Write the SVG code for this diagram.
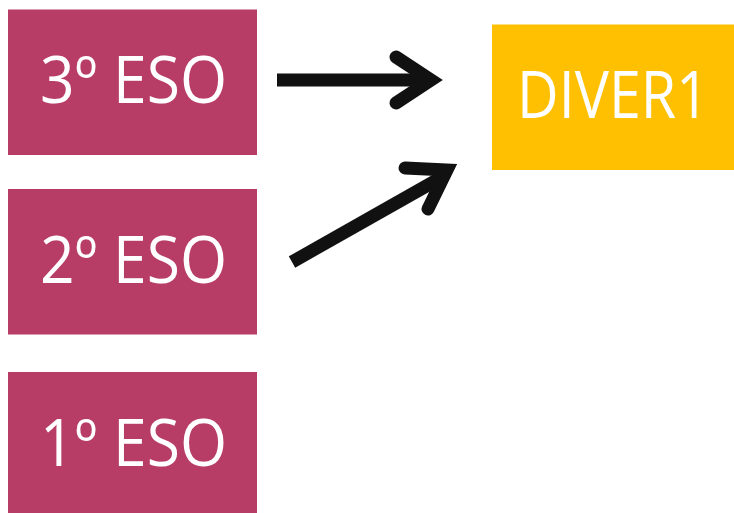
<svg xmlns="http://www.w3.org/2000/svg" width="734" height="513" viewBox="0 0 734 513">
<style>
.eso{fill:#b83d66}
.div{fill:#fec000}
.t{fill:#fff;font-family:"Open Sans","DejaVu Sans",sans-serif;font-size:65px;text-anchor:middle}
.ar{stroke:#111;stroke-width:13;fill:none}
.hd{stroke:#111;stroke-width:13;fill:none;stroke-linecap:round;stroke-linejoin:miter}
</style>
<rect width="734" height="513" fill="#fff"/>
<g id="eso3"><rect class="eso" x="8" y="9.5" width="249" height="145.5"/><text class="t" x="133.5" y="103" textLength="187" lengthAdjust="spacingAndGlyphs">3º ESO</text></g>
<g id="eso2"><rect class="eso" x="8" y="189" width="249" height="145.5"/><text class="t" x="133.5" y="283" textLength="187" lengthAdjust="spacingAndGlyphs">2º ESO</text></g>
<g id="eso1"><rect class="eso" x="8" y="372" width="249" height="145"/><text class="t" x="133.5" y="466" textLength="187" lengthAdjust="spacingAndGlyphs">1º ESO</text></g>
<g id="diver1"><rect class="div" x="492" y="24.5" width="245" height="145.5"/><text class="t" x="613" y="118" textLength="192" lengthAdjust="spacingAndGlyphs">DIVER1</text></g>
<g id="connectors">
<line class="ar" x1="277" y1="80" x2="428" y2="80"/>
<polyline class="hd" points="396,57 431,80 396,103"/>
<line class="ar" x1="292" y1="262" x2="444" y2="176"/>
<polyline class="hd" points="405,168 447,170 428,209"/>
</g>
</svg>
